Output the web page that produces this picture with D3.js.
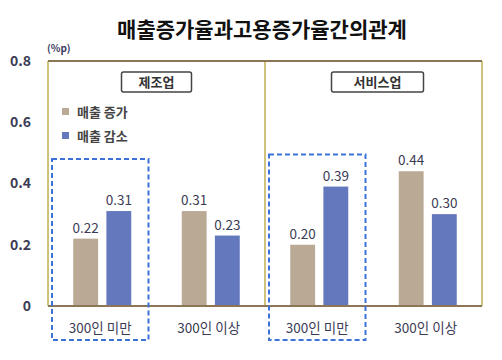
<!DOCTYPE html>
<html>
<head>
<meta charset="utf-8">
<script src="https://cdn.jsdelivr.net/npm/d3@7"></script>
<style>
  body { margin: 0; background: #fff; }
  text { font-family: 'Noto Sans CJK KR', 'Noto Sans', sans-serif; }
</style>
</head>
<body>
<svg id="chart" width="502" height="360"></svg>
<script>
const title = '매출증가율과고용증가율간의관계';
const panels = ['제조업', '서비스업'];
const groups = ['300인 미만', '300인 이상', '300인 미만', '300인 이상'];
const seriesNames = ['매출 증가', '매출 감소'];
const salesUp = [0.22, 0.31, 0.20, 0.44];
const salesDown = [0.31, 0.23, 0.39, 0.30];
const yTicks = [0, 0.2, 0.4, 0.6, 0.8];
const highlighted = [0, 2]; // groups with dashed box

const colors = ['#baa994', '#6378bd'];
const width = 502;
const height = 360;
const margin = { top: 61, right: 20, bottom: 54, left: 48 };

const svg = d3.select('#chart');

// title
svg.append('text')
  .attr('x', 262)
  .attr('y', 37)
  .attr('text-anchor', 'middle')
  .style('font-size', '21px')
  .style('font-weight', 'bold')
  .attr('fill', '#111')
  .text(title);

const x = d3.scaleBand()
  .domain(d3.range(groups.length))
  .range([margin.left, width - margin.right]);

const xInner = d3.scaleBand()
  .domain([0, 1])
  .range([x.bandwidth() / 2 - 29, x.bandwidth() / 2 + 29])
  .paddingInner(0.25);

const y = d3.scaleLinear()
  .domain([0, 0.8])
  .range([height - margin.bottom, margin.top]);

// y axis labels
const yAxis = svg.append('g')
  .attr('transform', `translate(${margin.left - 14}, 0)`)
  .call(d3.axisLeft(y).tickValues(yTicks).tickSize(0).tickFormat(d => d === 0 ? '0' : d3.format('.1f')(d)));
yAxis.select('.domain').remove();
yAxis.selectAll('text')
  .style('font-size', '14px')
  .style('font-weight', 'bold')
  .attr('fill', '#3b3b55')
  .attr('font-family', 'Liberation Sans, Arial, sans-serif');

svg.append('text')
  .attr('x', margin.left - 1)
  .attr('y', 52)
  .style('font-size', '10px')
  .style('font-weight', 'bold')
  .attr('fill', '#3b3b60')
  .attr('font-family', 'Liberation Sans, Arial, sans-serif')
  .text('(%p)');

// frame
const x0 = margin.left;
const x1 = width - margin.right;
const xMid = x(2);
const yTop = y(0.8);
const yBot = y(0);

[x0, xMid, x1].forEach(xv => {
  svg.append('line')
    .attr('x1', xv).attr('x2', xv)
    .attr('y1', yTop).attr('y2', yBot)
    .attr('stroke', '#cfc27a')
    .attr('stroke-width', 2);
});
svg.append('line')
  .attr('x1', x0).attr('x2', x1)
  .attr('y1', yTop).attr('y2', yTop)
  .attr('stroke', '#8c7656')
  .attr('stroke-width', 2);

// bars
const gBars = svg.append('g');
groups.forEach((g, i) => {
  [salesUp[i], salesDown[i]].forEach((v, s) => {
    const bx = x(i) + xInner(s);
    gBars.append('rect')
      .attr('x', bx)
      .attr('y', y(v))
      .attr('width', xInner.bandwidth())
      .attr('height', y(0) - y(v))
      .attr('fill', colors[s]);
    gBars.append('text')
      .attr('x', bx + xInner.bandwidth() / 2)
      .attr('y', y(v) - 6)
      .attr('text-anchor', 'middle')
      .style('font-size', '13.5px')
      .attr('fill', '#3b3b55')
      .attr('font-family', 'Liberation Sans, Arial, sans-serif')
      .text(d3.format('.2f')(v));
  });
  svg.append('text')
    .attr('x', x(i) + x.bandwidth() / 2 - 2)
    .attr('y', height - margin.bottom + 27)
    .attr('text-anchor', 'middle')
    .style('font-size', '13.5px')
    .attr('fill', '#3b3b55')
    .text(g);
});

// baseline
svg.append('line')
  .attr('x1', x0).attr('x2', x1)
  .attr('y1', yBot).attr('y2', yBot)
  .attr('stroke', '#8c7656')
  .attr('stroke-width', 2);

// dashed highlight boxes
highlighted.forEach(i => {
  const top = i === 0 ? y(0.48) : y(0.495);
  svg.append('rect')
    .attr('x', x(i) + 4)
    .attr('y', top)
    .attr('width', x.bandwidth() - 12)
    .attr('height', 340 - top)
    .attr('fill', 'none')
    .attr('stroke', '#3d72d6')
    .attr('stroke-width', 2)
    .attr('stroke-dasharray', '5,3');
});

// panel labels
panels.forEach((p, k) => {
  const cx = k === 0 ? (x0 + xMid) / 2 : (xMid + x1) / 2 + 4;
  const w = k === 0 ? 70 : 92;
  svg.append('rect')
    .attr('x', cx - w / 2)
    .attr('y', 72)
    .attr('width', w)
    .attr('height', 20)
    .attr('rx', 2)
    .attr('fill', '#fff')
    .attr('stroke', '#444')
    .attr('stroke-width', 1.5);
  svg.append('text')
    .attr('x', cx)
    .attr('y', 87)
    .attr('text-anchor', 'middle')
    .style('font-size', '13px')
    .style('font-weight', 'bold')
    .attr('fill', '#333')
    .text(p);
});

// legend
const legend = svg.append('g').attr('transform', 'translate(62, 112)');
seriesNames.forEach((n, s) => {
  legend.append('rect')
    .attr('x', 0)
    .attr('y', s * 24 - 4)
    .attr('width', 7)
    .attr('height', 7)
    .attr('fill', colors[s]);
  legend.append('text')
    .attr('x', 15)
    .attr('y', s * 24 + 5)
    .style('font-size', '13px')
    .style('font-weight', 'bold')
    .attr('fill', '#444')
    .text(n);
});
</script>
</body>
</html>
